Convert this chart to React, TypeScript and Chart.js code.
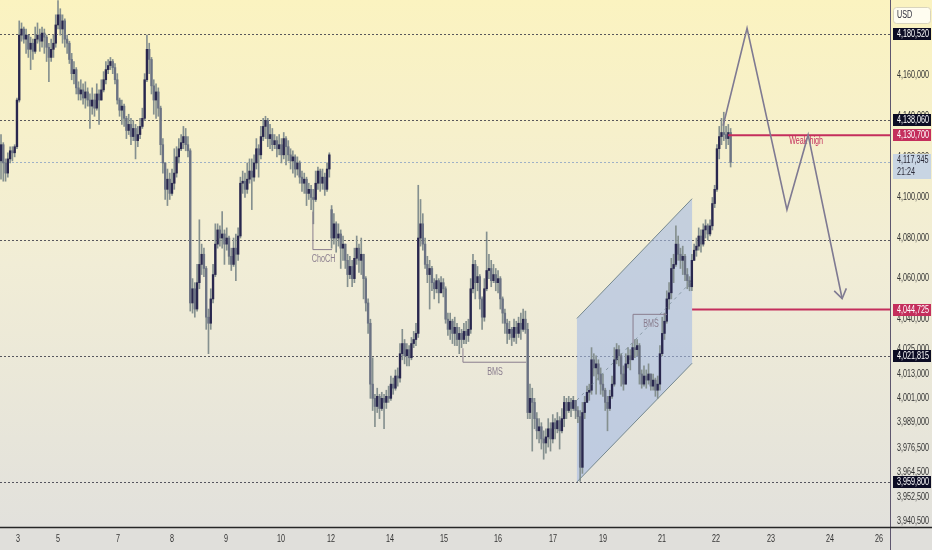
import { useEffect, useRef } from "react";
import { Chart, registerables } from "chart.js";

Chart.register(...registerables);

// ---------- DATA (prices in thousands of USD, one hourly candle per entry) ----------
const firstOpenK = 4118;
const gapOpens: [number, number][] = [[145, 4094]]; // [candle index, open] where the market gapped

const closeK = [
  4126, 4117, 4112, 4119, 4123, 4122, 4125, 4148, 4180, 4183,
  4178, 4180, 4173, 4176, 4172, 4178, 4180, 4177, 4181, 4179,
  4174, 4169, 4173, 4176, 4185, 4190, 4183, 4187, 4178, 4176,
  4168, 4161, 4163, 4154, 4151, 4153, 4149, 4152, 4148, 4145,
  4148, 4144, 4151, 4148, 4153, 4158, 4163, 4165, 4167, 4164,
  4158, 4148, 4143, 4145, 4139, 4133, 4136, 4130, 4134, 4128,
  4131, 4135, 4139, 4158, 4173, 4168, 4155, 4148, 4152, 4144,
  4126, 4117, 4104, 4109, 4102, 4107, 4112, 4120, 4124, 4127,
  4130, 4126, 4123, 4048, 4055, 4045, 4058, 4067, 4072, 4065,
  4041, 4038, 4050, 4062, 4077, 4084, 4080, 4082, 4077, 4080,
  4071, 4067, 4075, 4072, 4081, 4107, 4108, 4104, 4109, 4113,
  4110, 4117, 4124, 4121, 4130, 4135, 4138, 4129, 4131, 4126,
  4128, 4124, 4126, 4121, 4129, 4125, 4121, 4118, 4120, 4114,
  4117, 4110, 4107, 4109, 4102, 4104, 4100, 4099, 4107, 4113,
  4107, 4110, 4104, 4114, 4121, 4080, 4087, 4080, 4082, 4075,
  4077, 4069, 4062, 4066, 4060, 4070, 4075, 4069, 4072, 4060,
  4048, 4038, 4008, 4001, 3997, 4002, 3996, 4001, 3999, 4002,
  4001, 4008, 4006, 4012, 4011, 4023, 4028, 4022, 4025, 4021,
  4028, 4030, 4033, 4080, 4087, 4077, 4067, 4062, 4065, 4058,
  4055, 4059, 4053, 4058, 4055, 4040, 4035, 4039, 4033, 4036,
  4030, 4033, 4030, 4034, 4032, 4035, 4055, 4067, 4058, 4061,
  4050, 4041, 4055, 4064, 4065, 4059, 4062, 4058, 4060, 4050,
  4043, 4038, 4033, 4035, 4031, 4036, 4033, 4038, 4035, 4040,
  4035, 3994, 4001, 3999, 3991, 3985, 3987, 3981, 3979, 3982,
  3986, 3981, 3989, 3986, 3990, 3985, 3991, 3999, 3995, 3999,
  3996, 4000, 3995, 3992, 3967, 3994, 3999, 4004, 4005, 4020,
  4016, 4018, 4013, 4008, 4005, 3999, 3996, 4002, 4008, 4020,
  4025, 4022, 4013, 4008, 4018, 4022, 4020, 4026, 4025, 4027,
  4013, 4008, 4012, 4010, 4013, 4007, 4010, 4005, 4008, 4023,
  4033, 4039, 4050, 4053, 4065, 4067, 4077, 4072, 4069, 4071,
  4062, 4059, 4056, 4069, 4074, 4076, 4081, 4077, 4084, 4086,
  4082, 4086, 4097, 4104, 4124, 4130, 4132, 4131, 4129, 4132, 4117.345,
];

const highK = [
  4131, 4127, 4119, 4122, 4125, 4125, 4126, 4149, 4187, 4186,
  4184, 4183, 4180, 4179, 4178, 4184, 4186, 4183, 4184, 4183,
  4180, 4176, 4178, 4180, 4190, 4197, 4193, 4190, 4188, 4180,
  4177, 4171, 4167, 4164, 4157, 4158, 4156, 4157, 4154, 4151,
  4154, 4151, 4156, 4153, 4158, 4162, 4167, 4168, 4169, 4168,
  4166, 4161, 4149, 4148, 4146, 4140, 4141, 4139, 4138, 4136,
  4135, 4139, 4144, 4161, 4180, 4176, 4169, 4158, 4156, 4154,
  4145, 4129, 4117, 4114, 4112, 4114, 4124, 4125, 4129, 4131,
  4135, 4134, 4130, 4124, 4060, 4058, 4067, 4089, 4077, 4075,
  4066, 4045, 4055, 4067, 4087, 4087, 4086, 4093, 4084, 4085,
  4081, 4075, 4080, 4082, 4085, 4110, 4113, 4112, 4117, 4119,
  4119, 4121, 4129, 4126, 4135, 4139, 4140, 4139, 4136, 4134,
  4131, 4130, 4131, 4129, 4132, 4130, 4128, 4124, 4123, 4121,
  4120, 4118, 4113, 4112, 4110, 4107, 4106, 4104, 4113, 4115,
  4114, 4114, 4112, 4117, 4122, 4096, 4092, 4088, 4087, 4084,
  4081, 4077, 4072, 4071, 4069, 4075, 4081, 4077, 4080, 4072,
  4061, 4050, 4040, 4021, 4003, 4006, 4003, 4004, 4003, 4005,
  4007, 4012, 4011, 4015, 4016, 4028, 4035, 4030, 4028, 4027,
  4031, 4034, 4038, 4106, 4099, 4092, 4080, 4071, 4069, 4066,
  4060, 4062, 4060, 4061, 4060, 4056, 4043, 4043, 4040, 4041,
  4038, 4036, 4035, 4038, 4039, 4040, 4060, 4072, 4069, 4066,
  4062, 4051, 4060, 4083, 4072, 4069, 4067, 4065, 4064, 4061,
  4051, 4045, 4040, 4039, 4036, 4040, 4039, 4041, 4043, 4045,
  4044, 4038, 4008, 4006, 4001, 3994, 3991, 3989, 3985, 3986,
  3991, 3989, 3993, 3991, 3994, 3992, 3996, 4002, 4001, 4002,
  4001, 4002, 4000, 3997, 3995, 3999, 4002, 4007, 4008, 4026,
  4023, 4022, 4020, 4016, 4013, 4006, 4002, 4005, 4012, 4026,
  4028, 4027, 4023, 4017, 4023, 4026, 4025, 4028, 4030, 4030,
  4028, 4015, 4017, 4015, 4018, 4013, 4013, 4011, 4012, 4027,
  4041, 4043, 4054, 4058, 4070, 4072, 4086, 4081, 4075, 4076,
  4072, 4065, 4061, 4072, 4077, 4080, 4085, 4084, 4087, 4089,
  4087, 4089, 4100, 4106, 4126, 4135, 4139, 4142, 4135, 4136, 4134,
];

const lowK = [
  4109, 4108, 4108, 4110, 4117, 4118, 4120, 4124, 4147, 4177,
  4176, 4171, 4169, 4163, 4168, 4171, 4176, 4172, 4174, 4171,
  4167, 4157, 4167, 4169, 4174, 4183, 4180, 4176, 4174, 4171,
  4166, 4158, 4156, 4151, 4148, 4148, 4146, 4144, 4145, 4134,
  4141, 4140, 4143, 4136, 4148, 4152, 4156, 4161, 4163, 4161,
  4156, 4146, 4140, 4136, 4135, 4129, 4131, 4126, 4128, 4119,
  4125, 4129, 4134, 4138, 4157, 4161, 4151, 4141, 4139, 4140,
  4121, 4112, 4099, 4096, 4099, 4101, 4104, 4110, 4117, 4123,
  4124, 4123, 4120, 4044, 4043, 4041, 4044, 4055, 4062, 4061,
  4035, 4023, 4035, 4048, 4061, 4075, 4076, 4075, 4067, 4074,
  4067, 4064, 4066, 4059, 4069, 4080, 4102, 4100, 4102, 4107,
  4094, 4108, 4114, 4110, 4119, 4128, 4129, 4125, 4124, 4123,
  4124, 4120, 4121, 4117, 4119, 4116, 4118, 4114, 4112, 4110,
  4111, 4107, 4103, 4102, 4096, 4099, 4094, 4087, 4098, 4104,
  4103, 4104, 4101, 4103, 4110, 4075, 4077, 4073, 4076, 4065,
  4069, 4065, 4056, 4060, 4056, 4058, 4067, 4063, 4062, 4050,
  4044, 4033, 4001, 3995, 3987, 3994, 3991, 3995, 3986, 3996,
  3999, 4000, 4003, 4005, 4007, 4009, 4020, 4018, 4017, 4017,
  4020, 4026, 4027, 4031, 4076, 4074, 4065, 4058, 4045, 4054,
  4050, 4053, 4048, 4053, 4051, 4038, 4032, 4030, 4028, 4027,
  4027, 4023, 4026, 4028, 4028, 4029, 4033, 4053, 4050, 4054,
  4045, 4035, 4039, 4054, 4060, 4056, 4058, 4054, 4053, 4045,
  4038, 4033, 4028, 4030, 4027, 4029, 4028, 4031, 4030, 4034,
  4033, 3991, 3991, 3975, 3986, 3981, 3979, 3976, 3971, 3974,
  3977, 3975, 3979, 3981, 3984, 3976, 3984, 3987, 3991, 3994,
  3992, 3995, 3991, 3989, 3960, 3964, 3991, 3999, 4000, 4003,
  4012, 4003, 4010, 4003, 4002, 3995, 3985, 3995, 4001, 4007,
  4018, 4017, 4007, 4005, 4008, 4016, 4015, 4020, 4021, 4022,
  4008, 4006, 4007, 4006, 4008, 4005, 4005, 4002, 4001, 4005,
  4022, 4030, 4038, 4045, 4050, 4058, 4066, 4069, 4065, 4062,
  4059, 4055, 4054, 4054, 4069, 4071, 4074, 4073, 4076, 4080,
  4079, 4081, 4084, 4095, 4103, 4119, 4126, 4128, 4124, 4126, 4115,
];

// time axis: day-of-month labels and the candle index where each falls
const dayLabels = ["3", "5", "7", "8", "9", "10", "12", "14", "15", "16", "17", "19", "21", "22", "23", "24", "26"];
const dayTickIdx = [7.5, 25, 51.3, 75, 98.7, 122.8, 144.7, 170.6, 194.3, 218, 242.1, 264, 289.9, 313.6, 337.7, 363.6, 385.1];

// price axis ticks (k USD)
const priceTicksK = [4160, 4140, 4120, 4100, 4080, 4060, 4040, 4025, 4013, 4001, 3989, 3976.5, 3964.5, 3952.5, 3940.5];

// horizontal levels drawn by the author (k USD); boxed ones get an axis label
const levelsK = [4180.52, 4138.06, 4078.8, 4021.815, 3959.8];
const levelBoxed = [true, true, false, true, true];
const currentPriceK = 4117.345;
const countdown = "21:24";
const currency = "USD";

// red structure levels
const weakHighK = 4130.7;
const weakHighStart = 318.9;
const supportK = 4044.725;
const supportStart = 303.1;

// rising channel (index, k USD)
const chanX = [252.6, 252.6, 303.1, 303.1];
const chanY = [3959.8, 4040.4, 4099.4, 4018.3];

// projected path (index, k USD)
const projX = [316.7, 327.2, 344.7, 354.0, 368.9];
const projY = [4135.3, 4183.4, 4094.0, 4130.8, 4050.2];

// structure markers
const chochX = [136.8, 136.8, 145.2];
const chochY = [4093.0, 4074.3, 4074.3];
const bms1X = [202.6, 202.6, 230.3];
const bms1Y = [4025.7, 4018.8, 4018.8];
const bms2X = [277.2, 277.2, 292.1];
const bms2Y = [4028.1, 4042.4, 4042.4];
const markerLabels = [
  { text: "ChoCH", x: 141.5, y: 4069.6 },
  { text: "BMS", x: 216.7, y: 4014.0 },
  { text: "BMS", x: 285.1, y: 4037.6 },
];
const weakHighLabel = { text: "Weak high", x: 353.1, y: 4127.6 };

// ---------- STYLE ----------
const X_MIN = -0.44;
const X_MAX = 389.9;
const Y_MIN = 3937.6;
const Y_MAX = 4197.3;
const FONT = "'Liberation Sans', Arial, sans-serif";
const SQUEEZE = 0.72;
const UP = "#29274e";
const DOWN = "#6b7283";
const WICK = "#85908f";
const CRIMSON = "#c42e5c";
const MARK = "#8a7d8e";

const fmt = (k: number) => Math.round(k * 1000).toLocaleString("en-US");

function narrowText(ctx: any, text: string, x: number, y: number, align: string) {
  ctx.save();
  ctx.translate(x, y);
  ctx.scale(SQUEEZE, 1);
  ctx.textAlign = align;
  ctx.textBaseline = "middle";
  ctx.fillText(text, 0, 0);
  ctx.restore();
}

export default function App() {
  const ref = useRef<HTMLCanvasElement>(null);

  useEffect(() => {
    document.body.style.margin = "0";
    const canvas = ref.current;
    if (!canvas) return;

    const openK = closeK.map((_, i) => (i === 0 ? firstOpenK : closeK[i - 1]));
    gapOpens.forEach(([i, v]) => (openK[i] = v));

    const bodies = closeK.map((c, i) => ({ x: i, y: [openK[i], c] }));
    const wicks = closeK.map((c, i) => ({
      x: i,
      y: [Math.min(lowK[i], openK[i], c), Math.max(highK[i], openK[i], c)],
    }));
    const bodyColors = closeK.map((c, i) => (c >= openK[i] ? UP : DOWN));

    const bgPlugin = {
      id: "bg",
      beforeDraw(chart: any) {
        const { ctx, chartArea: a, width, height } = chart;
        ctx.save();
        const g = ctx.createLinearGradient(0, 0, 0, a.bottom);
        g.addColorStop(0, "#fbf3c0");
        g.addColorStop(0.5, "#f1edd6");
        g.addColorStop(1, "#e2e1dc");
        ctx.fillStyle = g;
        ctx.fillRect(0, 0, width, a.bottom);
        ctx.fillStyle = "#e0dfdb";
        ctx.fillRect(0, a.bottom, width, height - a.bottom);
        ctx.restore();
      },
    };

    const path = (ctx: any, xs: any, ys: any, X: number[], Y: number[]) => {
      ctx.beginPath();
      X.forEach((v, i) => {
        const px = xs.getPixelForValue(v);
        const py = ys.getPixelForValue(Y[i]);
        if (i === 0) ctx.moveTo(px, py);
        else ctx.lineTo(px, py);
      });
    };

    const underPlugin = {
      id: "under",
      beforeDatasetsDraw(chart: any) {
        const { ctx, chartArea: a, scales } = chart;
        const xs = scales.x;
        const ys = scales.y;
        ctx.save();
        ctx.beginPath();
        ctx.rect(a.left, a.top, a.right - a.left, a.bottom - a.top);
        ctx.clip();

        ctx.lineWidth = 1;
        ctx.setLineDash([2, 2]);
        ctx.strokeStyle = "rgba(60,60,72,0.85)";
        levelsK.forEach((v) => {
          const py = Math.round(ys.getPixelForValue(v)) + 0.5;
          ctx.beginPath();
          ctx.moveTo(a.left, py);
          ctx.lineTo(a.right, py);
          ctx.stroke();
        });
        ctx.strokeStyle = "#9fb1c6";
        const cp = Math.round(ys.getPixelForValue(currentPriceK)) + 0.5;
        ctx.beginPath();
        ctx.moveTo(a.left, cp);
        ctx.lineTo(a.right, cp);
        ctx.stroke();
        ctx.setLineDash([]);

        path(ctx, xs, ys, chanX, chanY);
        ctx.closePath();
        ctx.fillStyle = "rgba(165,187,228,0.6)";
        ctx.fill();
        ctx.restore();
      },
    };

    const overPlugin = {
      id: "over",
      afterDatasetsDraw(chart: any) {
        const { ctx, chartArea: a, scales } = chart;
        const xs = scales.x;
        const ys = scales.y;
        ctx.save();
        ctx.beginPath();
        ctx.rect(a.left, a.top, a.right - a.left, a.bottom - a.top);
        ctx.clip();

        ctx.strokeStyle = "#75888f";
        ctx.lineWidth = 1;
        path(ctx, xs, ys, [chanX[0], chanX[3]], [chanY[0], chanY[3]]);
        ctx.stroke();
        path(ctx, xs, ys, [chanX[1], chanX[2]], [chanY[1], chanY[2]]);
        ctx.stroke();
        ctx.setLineDash([3, 4]);
        ctx.strokeStyle = "rgba(110,130,140,0.7)";
        path(ctx, xs, ys, [chanX[0], chanX[2]], [(chanY[0] + chanY[1]) / 2, (chanY[2] + chanY[3]) / 2]);
        ctx.stroke();
        ctx.setLineDash([]);

        ctx.strokeStyle = MARK;
        ctx.lineWidth = 1;
        [[chochX, chochY], [bms1X, bms1Y], [bms2X, bms2Y]].forEach(([X, Y]) => {
          path(ctx, xs, ys, X, Y);
          ctx.stroke();
        });
        ctx.fillStyle = MARK;
        ctx.font = `10px ${FONT}`;
        markerLabels.forEach((m) => {
          narrowText(ctx, m.text, xs.getPixelForValue(m.x), ys.getPixelForValue(m.y), "center");
        });

        ctx.strokeStyle = CRIMSON;
        ctx.lineWidth = 2;
        [[weakHighStart, weakHighK], [supportStart, supportK]].forEach(([s, v]) => {
          const py = ys.getPixelForValue(v);
          ctx.beginPath();
          ctx.moveTo(xs.getPixelForValue(s), py);
          ctx.lineTo(a.right, py);
          ctx.stroke();
        });
        ctx.fillStyle = CRIMSON;
        narrowText(ctx, weakHighLabel.text, xs.getPixelForValue(weakHighLabel.x), ys.getPixelForValue(weakHighLabel.y), "center");

        ctx.strokeStyle = "#7f7a92";
        ctx.lineWidth = 1.6;
        path(ctx, xs, ys, projX, projY);
        ctx.stroke();
        const n = projX.length;
        const tx = xs.getPixelForValue(projX[n - 1]);
        const ty = ys.getPixelForValue(projY[n - 1]);
        const fx = xs.getPixelForValue(projX[n - 2]);
        const fy = ys.getPixelForValue(projY[n - 2]);
        const ang = Math.atan2(fy - ty, fx - tx);
        ctx.beginPath();
        ctx.moveTo(tx + 11 * Math.cos(ang - 0.6), ty + 11 * Math.sin(ang - 0.6));
        ctx.lineTo(tx, ty);
        ctx.lineTo(tx + 11 * Math.cos(ang + 0.6), ty + 11 * Math.sin(ang + 0.6));
        ctx.stroke();
        ctx.restore();
      },
    };

    const axisPlugin = {
      id: "axisDeco",
      afterDraw(chart: any) {
        const { ctx, chartArea: a, width, height, scales } = chart;
        const xs = scales.x;
        const ys = scales.y;
        ctx.save();
        ctx.strokeStyle = "#5e566e";
        ctx.lineWidth = 1;
        ctx.beginPath();
        ctx.moveTo(a.right + 0.5, 0);
        ctx.lineTo(a.right + 0.5, height);
        ctx.stroke();
        ctx.strokeStyle = "#262626";
        ctx.lineWidth = 1.5;
        ctx.beginPath();
        ctx.moveTo(0, a.bottom + 0.5);
        ctx.lineTo(width, a.bottom + 0.5);
        ctx.stroke();

        ctx.font = `10px ${FONT}`;
        const tx = a.right + 7;

        ctx.fillStyle = "#333333";
        xs.ticks.forEach((t: any, i: number) => {
          narrowText(ctx, dayLabels[i], xs.getPixelForValue(t.value), a.bottom + 12, "center");
        });
        ys.ticks.forEach((t: any) => {
          narrowText(ctx, fmt(t.value), tx, ys.getPixelForValue(t.value), "left");
        });

        const bx = a.right + 3;
        const bw = width - bx - 1;
        const box = (v: number, fill: string) => {
          const py = Math.round(ys.getPixelForValue(v));
          ctx.fillStyle = fill;
          ctx.fillRect(bx, py - 6, bw, 12);
          ctx.fillStyle = "#ffffff";
          narrowText(ctx, fmt(v), tx, py + 0.5, "left");
        };
        levelsK.forEach((v, i) => {
          if (levelBoxed[i]) box(v, "#0c0c24");
        });
        box(weakHighK, CRIMSON);
        box(supportK, CRIMSON);

        const cp = Math.round(ys.getPixelForValue(currentPriceK));
        ctx.fillStyle = "#c8d5e3";
        ctx.fillRect(bx, cp - 8, bw, 25);
        ctx.fillStyle = "#2a2a38";
        narrowText(ctx, fmt(currentPriceK), tx, cp - 1.5, "left");
        narrowText(ctx, countdown, tx, cp + 10, "left");

        ctx.fillStyle = "#fffdf0";
        ctx.strokeStyle = "#d9d4bd";
        ctx.lineWidth = 1;
        ctx.beginPath();
        ctx.roundRect(bx + 0.5, 7.5, bw - 1, 16, 3);
        ctx.fill();
        ctx.stroke();
        ctx.fillStyle = "#2a2a38";
        narrowText(ctx, currency, tx, 15.5, "left");
        ctx.restore();
      },
    };

    const chart = new Chart(canvas, {
      type: "bar",
      data: {
        datasets: [
          {
            data: bodies as any,
            backgroundColor: bodyColors,
            barThickness: 1.7,
            minBarLength: 1,
            grouped: false,
            borderWidth: 0,
          } as any,
          {
            data: wicks as any,
            backgroundColor: WICK,
            barThickness: 1,
            grouped: false,
            borderWidth: 0,
          } as any,
        ],
      },
      options: {
        animation: false,
        responsive: false,
        events: [],
        layout: { padding: 0 },
        plugins: { legend: { display: false }, tooltip: { enabled: false } },
        scales: {
          x: {
            type: "linear",
            min: X_MIN,
            max: X_MAX,
            offset: false,
            grid: { display: false, drawTicks: false },
            border: { display: false },
            afterBuildTicks: (s: any) => {
              s.ticks = dayTickIdx.map((v) => ({ value: v }));
            },
            afterFit: (s: any) => {
              s.height = 23;
              s.paddingLeft = 0;
              s.paddingRight = 0;
            },
            ticks: {
              autoSkip: false,
              maxRotation: 0,
              padding: 7,
              color: "rgba(0,0,0,0)",
              font: { family: FONT, size: 9 },
              callback: (_v: any, i: number) => dayLabels[i],
            },
          },
          y: {
            type: "linear",
            position: "right",
            min: Y_MIN,
            max: Y_MAX,
            grid: { display: false, drawTicks: false },
            border: { display: false },
            afterBuildTicks: (s: any) => {
              s.ticks = priceTicksK.map((v) => ({ value: v }));
            },
            afterFit: (s: any) => {
              s.width = 42;
              s.paddingTop = 0;
              s.paddingBottom = 0;
            },
            ticks: {
              autoSkip: false,
              padding: 7,
              color: "rgba(0,0,0,0)",
              font: { family: FONT, size: 9 },
              callback: (v: any) => fmt(Number(v)),
            },
          },
        },
      } as any,
      plugins: [bgPlugin, underPlugin, overPlugin, axisPlugin],
    });

    return () => chart.destroy();
  }, []);

  return (
    <div style={{ width: 932, height: 550, position: "relative" }}>
      <canvas ref={ref} width={932} height={550} style={{ display: "block" }} />
    </div>
  );
}
